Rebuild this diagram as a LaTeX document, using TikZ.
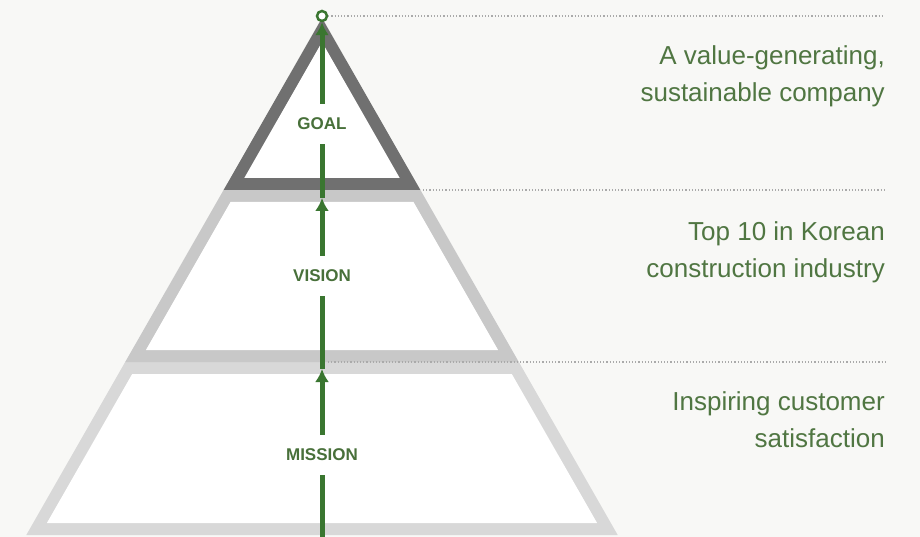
\documentclass[tikz,border=0pt]{standalone}
\usepackage{fontspec}
\setmainfont{Liberation Sans}
\usetikzlibrary{positioning,arrows.meta}
\definecolor{paper}{RGB}{248,248,246}
\definecolor{goalgrey}{RGB}{112,112,112}
\definecolor{visiongrey}{RGB}{200,200,200}
\definecolor{missiongrey}{RGB}{216,216,216}
\definecolor{arrowgreen}{RGB}{58,118,48}
\definecolor{labelgreen}{RGB}{72,112,58}
\definecolor{textgreen}{RGB}{80,118,66}
\definecolor{guidegrey}{RGB}{170,170,170}
\tikzstyle{tier} = [font=\fontsize{17}{20}\selectfont\bfseries, text=labelgreen, inner sep=0pt, minimum height=40pt]
\tikzstyle{flow} = [draw=arrowgreen, line width=5pt]
\tikzstyle{uparrow} = [-{Latex[length=13pt,width=14pt]}]
\tikzstyle{guide} = [draw=guidegrey, line width=1.2pt, dotted]
\tikzstyle{caption} = [font=\fontsize{26}{37}\selectfont, text=textgreen, align=right, anchor=base east, inner sep=0pt]

\begin{document}
\begin{tikzpicture}[x=1pt, y=-1pt]
	\fill[paper] (0,0) rectangle (920,537);
	\useasboundingbox (0,0) rectangle (920,537);
	% pyramid slices
	\fill[missiongrey] (125.2,362) -- (518.8,362) -- (617.7,535) -- (26.3,535) -- cycle;
	\fill[white] (132.2,374) -- (511.8,374) -- (597.1,523) -- (46.9,523) -- cycle;
	\fill[visiongrey] (223.6,190) -- (420.4,190) -- (518.8,362) -- (125.2,362) -- cycle;
	\fill[white] (230.5,202) -- (413.5,202) -- (498.1,350) -- (145.9,350) -- cycle;
	\fill[goalgrey] (322,18) -- (420.4,190) -- (223.6,190) -- cycle;
	\fill[white] (322,42.1) -- (399.7,178) -- (244.3,178) -- cycle;
	% labels and arrow
	\node (goal) [tier] at (322,124) {GOAL};
	\node (vision) [tier] at (322,276) {VISION};
	\node (mission) [tier] at (322,455) {MISSION};
	\node (top) [circle, draw=arrowgreen, fill=white, line width=2.5pt, minimum size=10pt, inner sep=0pt] at (322,16) {};
	\coordinate (base) at (322,537);
	\coordinate (tipM) at (322,369);
	\coordinate (tipV) at (322,198);
	\draw [flow] (base) -- (mission.south);
	\draw [flow,uparrow] (mission.north) -- (tipM);
	\draw [flow] (tipM) -- (vision.south);
	\draw [flow,uparrow] (vision.north) -- (tipV);
	\draw [flow] (tipV) -- (goal.south);
	\draw [flow,uparrow] (goal.north) -- (top.south);
	% dotted guides
	\coordinate (g1) at (885,16);
	\coordinate (v0) at (423,190);
	\coordinate (v1) at (885,190);
	\coordinate (m0) at (328,362);
	\coordinate (m1) at (885,362);
	\draw [guide] (top.east) -- (g1);
	\draw [guide] (v0) -- (v1);
	\draw [guide] (m0) -- (m1);
	% statements (base = last line)
	\node (goaltext) [caption] at (885,102) {A value-generating,\\sustainable company};
	\node (visiontext) [caption] at (885,277) {Top 10 in Korean\\construction industry};
	\node (missiontext) [caption] at (885,447) {Inspiring customer\\satisfaction};
\end{tikzpicture}
\end{document}
